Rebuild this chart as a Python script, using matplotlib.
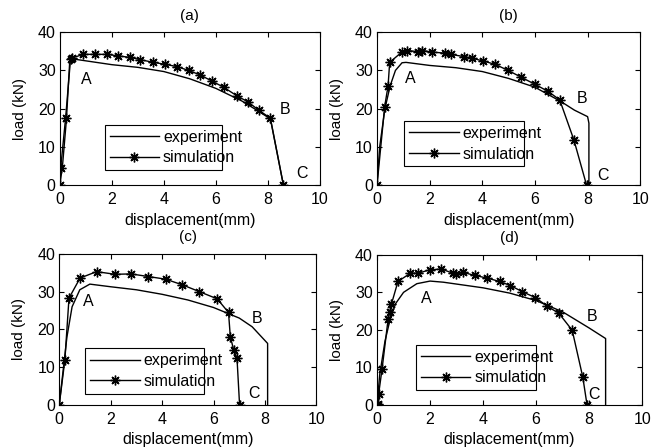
import matplotlib.pyplot as plt
import matplotlib.lines as mlines

plt.rcParams["font.family"] = ["Liberation Sans", "DejaVu Sans"]
plt.rcParams["font.size"] = 10.5

# ---- panel (a)
exp_a_x = [0, 0.1, 0.25, 0.38, 0.5, 1, 2, 3, 4, 5, 6, 7, 7.6, 8.1, 8.6]
exp_a_y = [0, 5, 17, 32.5, 33, 32.5, 31.5, 30.8, 29.7, 27.8, 25.3, 22, 19.5, 17.3, 0]
sim_a_x = [0, 0.03, 0.22, 0.41, 0.45, 0.9, 1.35, 1.8, 2.25, 2.7, 3.1, 3.6, 4.05,
           4.5, 4.95, 5.4, 5.85, 6.3, 6.8, 7.25, 7.65, 8.1, 8.6]
sim_a_y = [0, 4.4, 17.5, 33.0, 33.2, 34.2, 34.2, 34.2, 33.8, 33.4, 32.8, 32.1, 31.6,
           31.0, 30.0, 28.8, 27.2, 25.6, 23.4, 21.7, 19.6, 17.5, 0]

# ---- panel (b)
exp_b_x = [0, 0.05, 0.1, 0.3, 0.5, 0.7, 0.95, 1.1, 2, 3, 4, 5, 6, 7, 7.5, 8, 8.05, 8.05]
exp_b_y = [0, 5, 10, 20, 26, 30, 32, 32.1, 31.3, 30.7, 29.7, 27.9, 25.6, 21.8, 19.6, 17.9, 16.2, 0]
sim_b_x = [0, 0.29, 0.42, 0.48, 0.96, 1.15, 1.57, 1.72, 2.1, 2.59, 2.8, 3.31, 3.6,
           4.01, 4.48, 4.98, 5.48, 5.99, 6.5, 6.94, 7.48, 7.96]
sim_b_y = [0, 20.5, 26, 32.1, 34.9, 35.2, 34.9, 35.2, 34.8, 34.5, 34.2, 33.6, 33.2,
           32.5, 31.6, 30.0, 28.2, 26.4, 24.5, 22.3, 11.8, 0]

# ---- panel (c)
exp_c_x = [0, 0.1, 0.3, 0.5, 0.8, 1.19, 2, 3, 4, 5, 6, 7, 7.5, 8.1, 8.1]
exp_c_y = [0, 6, 18, 26, 30.5, 32.0, 31.3, 30.5, 29.3, 27.8, 25.8, 23.0, 20.7, 16.3, 0]
sim_c_x = [0, 0.22, 0.38, 0.81, 1.45, 2.17, 2.79, 3.47, 4.14, 4.79, 5.45, 6.14,
           6.58, 6.65, 6.78, 6.91, 7.01]
sim_c_y = [0, 11.9, 28.3, 33.6, 35.3, 34.6, 34.7, 34.0, 33.3, 31.8, 30.0, 28.1,
           24.5, 18.1, 14.6, 12.4, 0]

# ---- panel (d)
exp_d_x = [0, 0.1, 0.3, 0.5, 0.7, 1.0, 1.5, 2, 2.5, 3, 4, 5, 6, 7, 8, 8.62, 8.62]
exp_d_y = [0, 8, 17, 23, 27, 30, 32.3, 33, 32.7, 32.2, 31.2, 29.8, 27.8, 24.8, 20.5, 17.7, 0]
sim_d_x = [0, 0.02, 0.04, 0.06, 0.19, 0.42, 0.48, 0.54, 0.79, 1.26, 1.55, 1.99, 2.43,
           2.86, 2.99, 3.25, 3.69, 4.15, 4.62, 5.03, 5.47, 5.97, 6.42, 6.86, 7.36,
           7.76, 7.92]
sim_d_y = [0, 0.2, 0.1, 2.9, 9.6, 23.0, 24.8, 26.8, 32.9, 35.1, 35.1, 36.0, 36.2,
           35.1, 34.8, 35.3, 34.5, 33.8, 32.9, 31.8, 30.2, 28.6, 26.3, 24.4, 19.9,
           7.4, 0]

titles = ["(a)", "(b)", "(c)", "(d)"]
exp_x = [exp_a_x, exp_b_x, exp_c_x, exp_d_x]
exp_y = [exp_a_y, exp_b_y, exp_c_y, exp_d_y]
sim_x = [sim_a_x, sim_b_x, sim_c_x, sim_d_x]
sim_y = [sim_a_y, sim_b_y, sim_c_y, sim_d_y]

# label positions for A, B, C per panel
label_pos = [
    [(1.0, 27.5), (8.65, 19.7), (9.3, 3.1)],
    [(1.27, 27.9), (7.8, 22.7), (8.6, 2.6)],
    [(1.13, 27.5), (7.69, 23.0), (7.58, 3.1)],
    [(1.86, 28.4), (8.11, 23.5), (8.18, 2.7)],
]

axes_rects = [
    [0.091, 0.586, 0.395, 0.342],
    [0.573, 0.586, 0.400, 0.342],
    [0.090, 0.094, 0.391, 0.338],
    [0.573, 0.094, 0.403, 0.336],
]
legend_boxes = [
    (0.142, 0.085, 0.512, 0.32),
    (0.073, 0.11, 0.517, 0.32),
    (0.07, 0.066, 0.525, 0.318),
    (0.117, 0.087, 0.513, 0.323),
]

star = (8, 2, 0)

fig = plt.figure(figsize=(6.58, 4.47), dpi=100)
for i in range(4):
    ax = fig.add_axes(axes_rects[i])
    ax.plot(exp_x[i], exp_y[i], color="black", linewidth=1.0)
    ax.plot(sim_x[i], sim_y[i], color="black", linewidth=1.0,
            marker=star, markersize=7, markeredgewidth=1.0)
    for txt, (tx, ty) in zip("ABC", label_pos[i]):
        ax.text(tx, ty, txt, ha="center", va="center", fontsize=11.5)
    ax.set_xlim(0, 10)
    ax.set_ylim(0, 40)
    ax.set_xticks([0, 2, 4, 6, 8, 10])
    ax.set_yticks([0, 10, 20, 30, 40])
    ax.tick_params(direction="in", top=True, right=True, length=3.5,
                   labelsize=11.5)
    ax.tick_params(axis="x", pad=5)
    ax.tick_params(axis="y", pad=3)
    ax.set_title(titles[i], fontsize=11, pad=9)
    ax.set_xlabel("displacement(mm)", fontsize=11.5, labelpad=4)
    ax.set_ylabel("load (kN)", fontsize=11, labelpad=8)
    h1 = mlines.Line2D([], [], color="black", linewidth=1.0)
    h2 = mlines.Line2D([], [], color="black", linewidth=1.0,
                       marker=star, markersize=7, markeredgewidth=1.0)
    leg = ax.legend([h1, h2], ["experiment", "simulation"],
                    bbox_to_anchor=legend_boxes[i], loc="center", mode="expand",
                    handlelength=3.1, handletextpad=0.25, fancybox=False,
                    framealpha=1, edgecolor="black", borderpad=0.3,
                    labelspacing=0.35, fontsize=11.5)
    leg.get_frame().set_linewidth(0.8)

fig.savefig("out.png", dpi=100)
